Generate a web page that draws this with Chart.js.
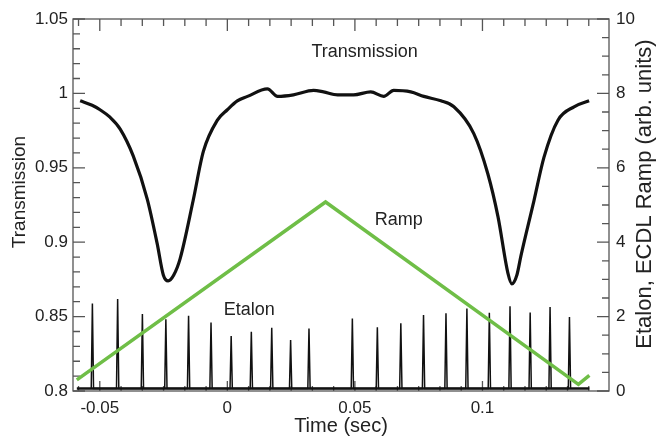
<!DOCTYPE html>
<html><head><meta charset="utf-8">
<script src="https://cdn.jsdelivr.net/npm/chart.js@4/dist/chart.umd.min.js"></script>
<style>html,body{margin:0;padding:0;background:#fff}#wrap{width:657px;height:437px}</style>
</head><body><div id="wrap"><canvas id="c" width="657" height="437"></canvas></div>
<script>
// ---- data ----
const transTime  = [-0.0577,-0.0530,-0.0499,-0.0460,-0.0420,-0.0369,-0.0314,-0.0275,-0.0251,-0.0232,-0.0210,-0.0185,-0.0134,-0.0094,-0.0039,0.0000,0.0039,0.0079,0.0157,0.0197,0.0259,0.0338,0.0377,0.0432,0.0495,0.0562,0.0613,0.0652,0.0719,0.0770,0.0837,0.0888,0.0966,0.1021,0.1061,0.1100,0.1115,0.1135,0.1151,0.1202,0.1241,0.1296,0.1359,0.1418];
const transValue = [0.995,0.992,0.989,0.984,0.976,0.958,0.929,0.899,0.878,0.874,0.878,0.889,0.928,0.961,0.982,0.989,0.995,0.998,1.003,0.998,0.999,1.002,1.001,0.999,0.999,1.001,0.998,1.002,1.001,0.998,0.995,0.991,0.973,0.946,0.917,0.879,0.872,0.878,0.891,0.928,0.957,0.982,0.991,0.995];

const rampTime  = [-0.0590, 0.0385, 0.1376, 0.1419];
const rampValue = [0.30, 5.08, 0.18, 0.42];

const etalonTime = [-0.0529,-0.0430,-0.0333,-0.0241,-0.0152,-0.0064,0.0015,0.0094,0.0174,0.0248,0.0320,0.0490,0.0588,0.0680,0.0769,0.0857,0.0939,0.1027,0.1108,0.1187,0.1265,0.1341];
const etalonPeak = [2.35,2.47,2.07,1.93,2.02,1.84,1.48,1.59,1.70,1.37,1.68,1.95,1.71,1.82,2.04,2.09,2.22,2.10,2.28,2.11,2.26,1.99];
const etalonBase = 0.07;
const etalonSpan = [-0.0590, 0.1419];

const xTickValues = [-0.05, 0, 0.05, 0.1];
const xTickLabels = ['-0.05', '0', '0.05', '0.1'];
const leftTickValues = [0.8, 0.85, 0.9, 0.95, 1, 1.05];
const leftTickLabels = ['0.8', '0.85', '0.9', '0.95', '1', '1.05'];
const rightTickValues = [0, 2, 4, 6, 8, 10];
const rightTickLabels = ['0', '2', '4', '6', '8', '10'];

const xTitle = 'Time (sec)';
const leftTitle = 'Transmission';
const rightTitle = 'Etalon, ECDL Ramp (arb. units)';
const noteTexts = ['Transmission', 'Ramp', 'Etalon'];

// ---- build library tables ----
const transPts = transTime.map((t, i) => ({x: t, y: transValue[i]}));
const rampPts = rampTime.map((t, i) => ({x: t, y: rampValue[i]}));
const hw = 0.00045;
const etalonPts = [];
etalonTime.forEach((t, i) => {
  etalonPts.push({x: t - hw, y: etalonBase}, {x: t, y: etalonPeak[i]}, {x: t + hw, y: etalonBase});
});
const basePts = etalonSpan.map(t => ({x: t, y: etalonBase}));

const FONT = "'Liberation Sans', Arial, Helvetica, sans-serif";
const INK = '#222';

const decor = {
  id: 'decor',
  beforeDatasetsDraw(chart) {
    const {ctx, chartArea: a, scales} = chart;
    ctx.save();
    ctx.strokeStyle = '#555';
    ctx.lineWidth = 1.3;
    ctx.strokeRect(a.left, a.top, a.right - a.left, a.bottom - a.top);
    ctx.beginPath();
    const xs = scales.x;
    for (let k = -12; k <= 24; k++) {
      const v = k * 0.05 / 6;
      if (v <= xs.min || v >= xs.max) continue;
      const px = xs.getPixelForValue(v);
      const major = (k % 6 === 0);
      ctx.moveTo(px, a.top); ctx.lineTo(px, a.top + (major ? 12 : 7));
      ctx.moveTo(px, a.bottom); ctx.lineTo(px, a.bottom - (major ? 10 : 5));
    }
    const ys = scales.y;
    for (let k = 80; k <= 105; k++) {
      const py = ys.getPixelForValue(k / 100);
      const L = (k % 5 === 0) ? 12 : 7;
      ctx.moveTo(a.left, py); ctx.lineTo(a.left + L, py);
    }
    const ys2 = scales.y2;
    for (let k = 0; k <= 20; k++) {
      const py = ys2.getPixelForValue(k / 2);
      const L = (k % 4 === 0) ? 12 : 7;
      ctx.moveTo(a.right, py); ctx.lineTo(a.right - L, py);
    }
    ctx.stroke();
    ctx.restore();
  },
  afterDraw(chart) {
    const {ctx, chartArea: a, scales} = chart;
    ctx.save();
    ctx.fillStyle = INK;
    ctx.textAlign = 'center';
    ctx.textBaseline = 'middle';
    ctx.font = '20px ' + FONT;
    ctx.fillText(xTitle, (a.left + a.right) / 2, 426);
    ctx.font = '19px ' + FONT;
    ctx.save(); ctx.translate(20, 192); ctx.rotate(-Math.PI / 2); ctx.fillText(leftTitle, 0, 0); ctx.restore();
    ctx.font = '22px ' + FONT;
    ctx.save(); ctx.translate(645, 194); ctx.rotate(-Math.PI / 2); ctx.fillText(rightTitle, 0, 0); ctx.restore();
    ctx.font = '18px ' + FONT;
    const xs = scales.x, ys = scales.y;
    ctx.fillText(noteTexts[0], xs.getPixelForValue(0.0538), ys.getPixelForValue(1.0275));
    ctx.fillText(noteTexts[1], xs.getPixelForValue(0.0672), ys.getPixelForValue(0.9147));
    ctx.fillText(noteTexts[2], xs.getPixelForValue(0.0086), ys.getPixelForValue(0.8544));
    ctx.restore();
  }
};

const tickFont = {family: FONT, size: 17};

new Chart(document.getElementById('c'), {
  type: 'line',
  data: {
    datasets: [
      {data: rampPts, yAxisID: 'y2', borderColor: '#6fbe47', borderWidth: 3.5, pointRadius: 0, tension: 0},
      {data: transPts, yAxisID: 'y', borderColor: '#111', borderWidth: 3.2, pointRadius: 0, cubicInterpolationMode: 'monotone'},
      {data: etalonPts, yAxisID: 'y2', borderColor: '#111', borderWidth: 1.5, pointRadius: 0, tension: 0},
      {data: basePts, yAxisID: 'y2', borderColor: '#111', borderWidth: 2.5, pointRadius: 0, tension: 0}
    ]
  },
  options: {
    responsive: false,
    animation: false,
    devicePixelRatio: 1,
    layout: {padding: {top: 19, left: 0, right: 0, bottom: 0}},
    plugins: {legend: {display: false}, tooltip: {enabled: false}},
    scales: {
      x: {
        type: 'linear', min: -0.0605, max: 0.1496, offset: false,
        grid: {display: false, drawTicks: false}, border: {display: false},
        afterBuildTicks: s => { s.ticks = xTickValues.map(v => ({value: v})); },
        afterFit: s => { s.height = 46; },
        ticks: {padding: 7, font: tickFont, color: INK, maxRotation: 0, autoSkip: false,
          callback: (v, i) => xTickLabels[i]}
      },
      y: {
        type: 'linear', position: 'left', min: 0.8, max: 1.05,
        grid: {display: false, drawTicks: false}, border: {display: false},
        afterBuildTicks: s => { s.ticks = leftTickValues.map(v => ({value: v})); },
        afterFit: s => { s.width = 73; },
        ticks: {padding: 5, font: tickFont, color: INK, autoSkip: false,
          callback: (v, i) => leftTickLabels[i]}
      },
      y2: {
        type: 'linear', position: 'right', min: 0, max: 10,
        grid: {display: false, drawTicks: false}, border: {display: false},
        afterBuildTicks: s => { s.ticks = rightTickValues.map(v => ({value: v})); },
        afterFit: s => { s.width = 48; },
        ticks: {padding: 7, font: tickFont, color: INK, autoSkip: false,
          callback: (v, i) => rightTickLabels[i]}
      }
    }
  },
  plugins: [decor]
});
</script>
</body></html>
